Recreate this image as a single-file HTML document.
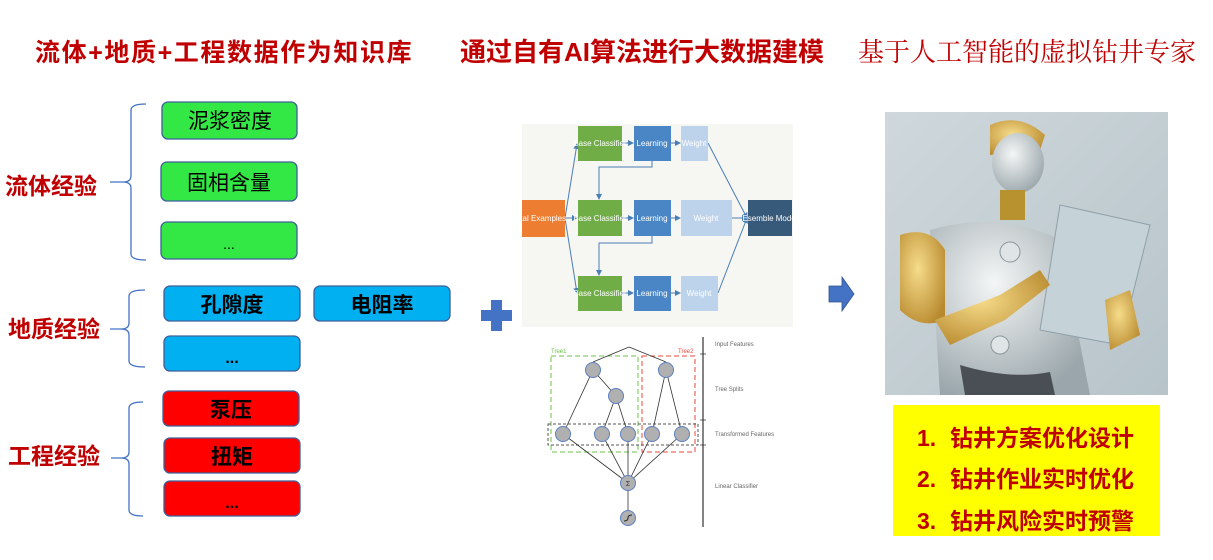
<!DOCTYPE html>
<html><head><meta charset="utf-8"><style>
html,body{margin:0;padding:0;background:#fff;}
svg{display:block;}
.t{font-family:"Liberation Sans","Noto Sans CJK SC",sans-serif;}
</style></head><body>
<svg width="1213" height="560" viewBox="0 0 1213 560" xmlns="http://www.w3.org/2000/svg" class="t">
<defs>
<linearGradient id="bg" x1="0" y1="0" x2="1" y2="1"><stop offset="0" stop-color="#cfd8dc"/><stop offset="1" stop-color="#b7c4ca"/></linearGradient>
<radialGradient id="gold" cx="0.4" cy="0.4" r="0.7"><stop offset="0" stop-color="#f6dc8a"/><stop offset="1" stop-color="#b8892e"/></radialGradient>
<radialGradient id="white" cx="0.4" cy="0.35" r="0.7"><stop offset="0" stop-color="#f4f6f6"/><stop offset="1" stop-color="#9aa6ab"/></radialGradient>
<marker id="ah" markerWidth="6" markerHeight="6" refX="5" refY="3" orient="auto"><path d="M0,0 L6,3 L0,6 z" fill="#4a7fb5"/></marker>
</defs>
<!-- titles -->
<g font-weight="bold" fill="#c00000" font-size="25">
<text x="35" y="61" letter-spacing="1.6">流体+地质+工程数据作为知识库</text>
<text x="460" y="61" font-size="26">通过自有AI算法进行大数据建模</text>
</g>
<text x="858" y="61" font-size="26" fill="#c00000" font-family="'Liberation Serif','Noto Serif CJK SC',serif">基于人工智能的虚拟钻井专家</text>

<!-- left labels -->
<g font-weight="bold" fill="#c00000" font-size="23">
<text x="5" y="194">流体经验</text>
<text x="8" y="337">地质经验</text>
<text x="8" y="464">工程经验</text>
</g>
<!-- braces -->
<g fill="none" stroke="#4472c4" stroke-width="1.3">
<path d="M146,104 Q131,104 131,110 L131,176 Q131,182 123,182 L110,182 M123,182 Q131,182 131,188 L131,254 Q131,260 146,260"/>
<path d="M145,290 Q129,290 129,296 L129,323 Q129,329 121,329 L110,329 M121,329 Q129,329 129,335 L129,361 Q129,367 145,367"/>
<path d="M143,402 Q129,402 129,408 L129,452 Q129,458 121,458 L111,458 M121,458 Q129,458 129,464 L129,510 Q129,516 143,516"/>
</g>
<!-- boxes -->
<g stroke="#3f5f9a" stroke-width="1.3">
<rect x="162" y="102" width="135" height="37" rx="6" fill="#33e845"/>
<rect x="161" y="162" width="136" height="39" rx="6" fill="#33e845"/>
<rect x="161" y="222" width="136" height="37" rx="6" fill="#33e845"/>
<rect x="164" y="286" width="136" height="35" rx="6" fill="#00b0f0"/>
<rect x="314" y="286" width="136" height="35" rx="6" fill="#00b0f0"/>
<rect x="164" y="336" width="136" height="35" rx="6" fill="#00b0f0"/>
<rect x="163" y="391" width="136" height="35" rx="6" fill="#ff0000"/>
<rect x="164" y="438" width="136" height="35" rx="6" fill="#ff0000"/>
<rect x="164" y="481" width="136" height="35" rx="6" fill="#ff0000"/>
</g>
<g font-size="21" fill="#000" text-anchor="middle">
<text x="230" y="128">泥浆密度</text>
<text x="229" y="190">固相含量</text>
<text x="229" y="249" font-size="14">...</text>
<g font-weight="bold">
<text x="232" y="312">孔隙度</text>
<text x="382" y="312">电阻率</text>
<text x="232" y="363" font-size="16">...</text>
<text x="231" y="417">泵压</text>
<text x="232" y="464">扭矩</text>
<text x="232" y="508" font-size="16">...</text>
</g></g>

<!-- plus -->
<path d="M491,300 h11 v10 h10 v11 h-10 v10 h-11 v-10 h-10 v-11 h10 z" fill="#4472c4"/>

<!-- ensemble -->
<rect x="522" y="124" width="271" height="203" fill="#f6f6f3"/>
<g stroke="#4a7fb5" stroke-width="1" fill="none" marker-end="url(#ah)">
<path d="M565,218 L577,144"/><path d="M565,218 L577,218"/><path d="M565,218 L577,293"/>
<path d="M622,143 L633,143"/><path d="M622,218 L633,218"/><path d="M622,293 L633,293"/>
<path d="M671,143 L680,143"/><path d="M671,218 L680,218"/><path d="M671,293 L680,293"/>
<path d="M652,161 L652,167 L599,167 L599,199"/>
<path d="M652,236 L652,243 L599,243 L599,275"/>
<path d="M708,143 L747,218"/><path d="M732,218 L747,218"/><path d="M718,293 L747,218"/>
</g>
<g font-size="8" fill="#fff" text-anchor="middle" font-family="'Liberation Sans Narrow','Liberation Sans',sans-serif">
<rect x="522" y="200" width="43" height="37" fill="#ed7d31"/><text x="541" y="221">otal Examples</text>
<rect x="578" y="126" width="44" height="35" fill="#70ad47"/><text x="600" y="146">Base Classifier</text>
<rect x="578" y="200" width="44" height="36" fill="#70ad47"/><text x="600" y="221">Base Classifier</text>
<rect x="578" y="276" width="44" height="35" fill="#70ad47"/><text x="600" y="296">Base Classifier</text>
<rect x="634" y="126" width="37" height="35" fill="#4a86c5"/><text x="652" y="146">Learning</text>
<rect x="634" y="200" width="37" height="36" fill="#4a86c5"/><text x="652" y="221">Learning</text>
<rect x="634" y="276" width="37" height="35" fill="#4a86c5"/><text x="652" y="296">Learning</text>
<rect x="681" y="126" width="27" height="35" fill="#bdd3ec"/><text x="694" y="146">Weight</text>
<rect x="681" y="200" width="51" height="36" fill="#bdd3ec"/><text x="706" y="221">Weight</text>
<rect x="681" y="276" width="37" height="35" fill="#bdd3ec"/><text x="699" y="296">Weight</text>
<rect x="748" y="200" width="44" height="36" fill="#37597a"/><text x="770" y="221">Esemble Model</text>
</g>

<!-- tree diagram -->
<g fill="none" stroke-width="1">
<rect x="551" y="356" width="87" height="96" stroke="#6cc04a" stroke-dasharray="5,3"/>
<rect x="642" y="356" width="53" height="96" stroke="#e84a3a" stroke-dasharray="5,3"/>
<rect x="548" y="424" width="150" height="21" stroke="#555" stroke-dasharray="3,2"/>
</g>
<g stroke="#333" stroke-width="0.8" fill="none">
<path d="M629,347 L593,362 M629,347 L666,362"/>
<path d="M593,370 L563,434 M593,370 L616,396 M616,396 L602,434 M616,396 L628,434"/>
<path d="M666,370 L652,434 M666,370 L682,434"/>
<path d="M563,434 L628,483 M602,434 L628,483 M628,434 L628,483 M652,434 L628,483 M682,434 L628,483 M628,483 L628,518"/>
<path d="M703,337 L703,527" stroke-width="1.2"/>
<path d="M700,354 h6 M700,420 h6 M700,445 h6"/>
</g>
<g fill="#b0b0b0" stroke="#5b7fc4" stroke-width="1">
<circle cx="593" cy="370" r="7.5"/><circle cx="666" cy="370" r="7.5"/><circle cx="616" cy="396" r="7.5"/>
<circle cx="563" cy="434" r="7.5"/><circle cx="602" cy="434" r="7.5"/><circle cx="628" cy="434" r="7.5"/>
<circle cx="652" cy="434" r="7.5"/><circle cx="682" cy="434" r="7.5"/>
<circle cx="628" cy="483" r="7.5"/><circle cx="628" cy="518" r="7.5"/>
</g>
<text x="628" y="486" font-size="7" text-anchor="middle" fill="#333">Σ</text>
<path d="M624,521 q4,0 4,-3 q0,-3 4,-3" stroke="#222" fill="none"/>
<g font-size="6" fill="#666">
<text x="551" y="353" fill="#6cc04a">Tree1</text><text x="678" y="353" fill="#e84a3a">Tree2</text>
<text x="715" y="346">Input Features</text><text x="715" y="391">Tree Splits</text>
<text x="715" y="436">Transformed Features</text><text x="715" y="488">Linear Classifier</text>
</g>

<!-- arrow -->
<path d="M829,286 h13 v-9 l12,17 l-12,17 v-9 h-13 z" fill="#4472c4" stroke="#2f528f" stroke-width="0.8"/>

<!-- robot picture -->
<rect x="885" y="112" width="283" height="283" fill="url(#bg)"/>
<g>
<path d="M990,125 Q1020,112 1045,135 L1040,150 L990,155 Z" fill="url(#gold)"/>
<ellipse cx="1018" cy="163" rx="26" ry="30" fill="url(#white)"/>
<rect x="1000" y="190" width="25" height="30" fill="#b8922e"/>
<path d="M930,230 Q1000,210 1060,240 L1090,395 L940,395 Z" fill="url(#white)"/>
<path d="M900,235 Q930,225 945,250 L945,320 Q920,330 900,310 Z" fill="url(#gold)"/>
<path d="M1060,205 L1150,225 L1120,345 L1040,330 Z" fill="#c5d2d8" stroke="#8fa0a8"/>
<path d="M935,320 L1000,295 L1040,270 L1050,285 L1005,320 L950,345 Z" fill="url(#gold)"/>
<path d="M1105,300 L1130,290 L1140,335 L1110,350 Z" fill="url(#gold)"/>
<circle cx="1010" cy="252" r="10" fill="#dfe4e6" stroke="#8a979c"/>
<circle cx="1000" cy="345" r="9" fill="#dfe4e6" stroke="#8a979c"/>
<path d="M960,365 Q1010,380 1050,372 L1055,395 L965,395 Z" fill="#4a4f55"/>
</g>

<!-- yellow box -->
<rect x="893" y="405" width="267" height="131" fill="#ffff00"/>
<g font-weight="bold" fill="#c00000" font-size="23">
<text x="917" y="446">1.</text><text x="950" y="446">钻井方案优化设计</text>
<text x="917" y="487">2.</text><text x="950" y="487">钻井作业实时优化</text>
<text x="917" y="529">3.</text><text x="950" y="529">钻井风险实时预警</text>
</g>
</svg>
</body></html>
